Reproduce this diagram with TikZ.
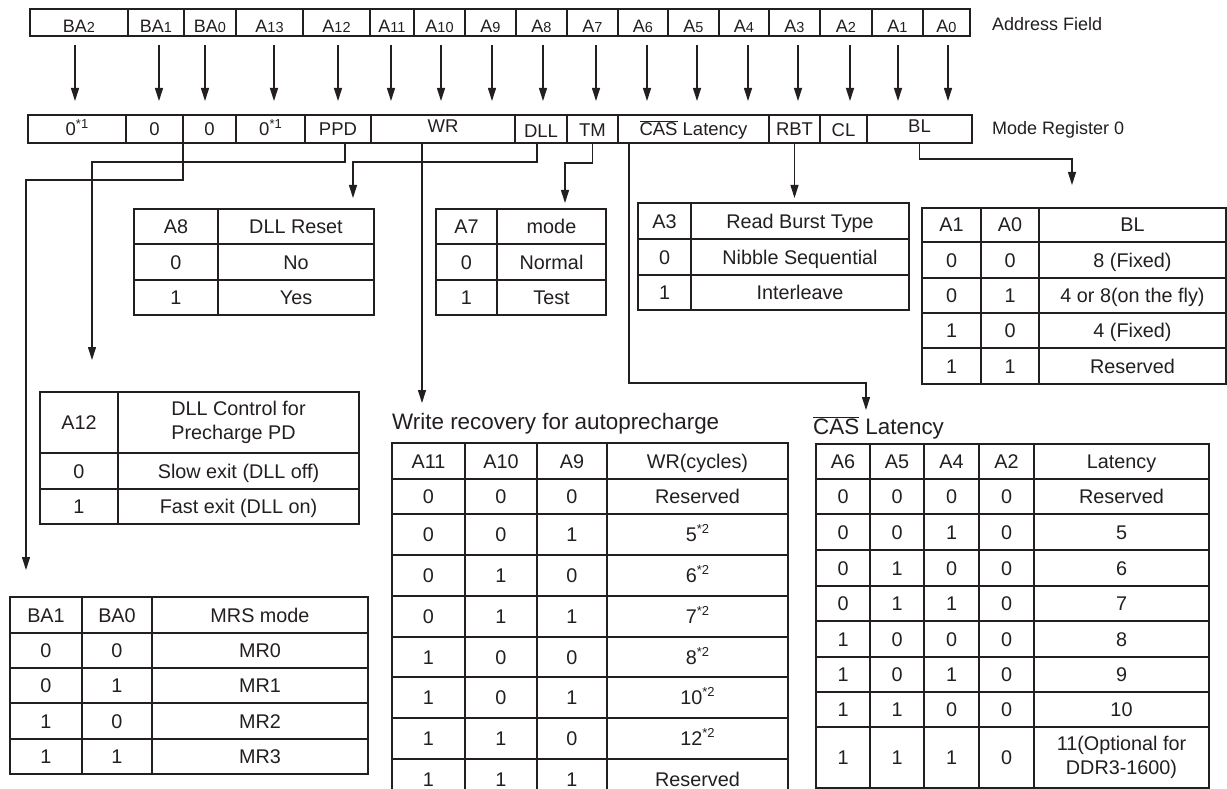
\documentclass[tikz,border=0pt]{standalone}
\usepackage{fontspec}
\setmainfont{Liberation Sans}
\usetikzlibrary{arrows.meta,calc}
\definecolor{ink}{RGB}{35,31,32}
\newcommand\mytabfont{\fontsize{19.8}{23.5}\selectfont}
\newcommand\myregfont{\fontsize{18.5}{20}\selectfont}
\newcommand\myaddrfont{\fontsize{18}{20}\selectfont}
\newcommand\mytitlefont{\fontsize{22.4}{26}\selectfont}
\newcommand\subd[1]{{\fontsize{14.5}{15}\selectfont #1}}
\newcommand\stx{\raisebox{7pt}{\fontsize{13}{13}\selectfont *1}}
\newcommand\sty{\raisebox{8pt}{\fontsize{13}{13}\selectfont *2}}
\newcommand\ovl[1]{$\overline{\mbox{#1}}$}
\newcommand\mkcell[7][]{%
  \pgfmathsetmacro\mkcw{#5-#3}%
  \pgfmathsetmacro\mkch{#6-#4}%
  \node[cellbox,#1,minimum width=\mkcw pt,minimum height=\mkch pt] (#2) at ({(#3+#5)/2},{(#4+#6)/2}) {#7};}
\begin{document}
\begin{tikzpicture}[x=1pt,y=-1pt,
  cellbox/.style={draw=ink,line width=1.1pt,inner sep=0pt,outer sep=0pt,font=\mytabfont,text=ink,align=center,text height=17pt,text depth=3pt},
  regcell/.style={font=\myregfont,text height=16pt,text depth=2.8pt},
  addrcell/.style={font=\myaddrfont,text height=21pt,text depth=1.6pt},
  twoline/.style={text height={},text depth={}},
  arr/.style={draw=ink,line width=1.1pt,-{Triangle[length=13pt,width=8pt]}},
  lbl/.style={inner sep=0pt,text=ink,anchor=base west}]
\useasboundingbox[fill=white] (0,0) rectangle (1227,789);

% Address field
\foreach \nm/\xa/\xb/\tx in {ba2/30/128/{BA\subd{2}}, ba1/128/184/{BA\subd{1}}, ba0/184/236/{BA\subd{0}}, a13/236/303/{A\subd{13}}, a12/303/370/{A\subd{12}}, a11/370/414/{A\subd{11}}, a10/414/465/{A\subd{10}}, a9/465/516/{A\subd{9}}, a8/516/567/{A\subd{8}}, a7/567/618/{A\subd{7}}, a6/618/668/{A\subd{6}}, a5/668/719/{A\subd{5}}, a4/719/769/{A\subd{4}}, a3/769/820/{A\subd{3}}, a2/820/872/{A\subd{2}}, a1/872/923/{A\subd{1}}, a0/923/970/{A\subd{0}}}
  {\mkcell[addrcell]{\nm}{\xa}{9}{\xb}{36}{\tx}}
\node[lbl,font=\myaddrfont] (afl) at (992,31) {Address Field};

% arrows address -> mode register
\foreach \nm/\dx in {ba2/-4, ba1/3, ba0/-5, a13/4.5, a12/1.5, a11/-1, a10/1.5, a9/1.5, a8/1.5, a7/3.5, a6/4, a5/3.5, a4/4, a3/3.5, a2/4, a1/0.5, a0/1.5}
  {\draw[arr] ($(\nm.south)+(\dx,9)$) -- ++(0,56);}

% Mode register 0
\foreach \nm/\xa/\xb/\tx in {mr0/28/126/{0\stx}, mrba1/126/183/0, mrba0/183/236/0, mr13/236/305/{0\stx}, mrppd/305/371/PPD, mrwr/371/515/{\raisebox{3pt}{WR}}, mrdll/515/567/{\raisebox{-2pt}{DLL}}, mrtm/567/618/{\raisebox{-1pt}{TM}}, mrcas/618/769/{\ovl{CAS} Latency}, mrrbt/769/820/RBT, mrcl/820/867/{\raisebox{-1pt}{CL}}, mrbl/867/972/{\raisebox{3pt}{BL}}}
  {\mkcell[regcell]{\nm}{\xa}{115}{\xb}{143}{\tx}}
\node[lbl,font=\myaddrfont] (mrl) at (992,135) {Mode Register 0};

% DLL reset table
\foreach \rr/\ya/\yb/\ca/\cb in {1/209/244/A8/{DLL Reset}, 2/244/280/0/No, 3/280/315/1/Yes}{
  \mkcell{dl\rr a}{134}{\ya}{218}{\yb}{\ca}
  \mkcell{dl\rr b}{218}{\ya}{374}{\yb}{\cb}}

% Test mode table
\foreach \rr/\ya/\yb/\ca/\cb in {1/209/244/A7/mode, 2/244/280/0/Normal, 3/280/315/1/Test}{
  \mkcell{tm\rr a}{436}{\ya}{497}{\yb}{\ca}
  \mkcell{tm\rr b}{497}{\ya}{606}{\yb}{\cb}}

% Read burst type table
\foreach \rr/\ya/\yb/\ca/\cb in {1/203/239/A3/{Read Burst Type}, 2/239/275/0/{Nibble Sequential}, 3/275/310/1/Interleave}{
  \mkcell{rb\rr a}{638}{\ya}{691}{\yb}{\ca}
  \mkcell{rb\rr b}{691}{\ya}{909}{\yb}{\cb}}

% Burst length table
\foreach \rr/\ya/\yb/\ca/\cb/\cc in {1/208/242/A1/A0/BL, 2/242/278/0/0/{8 (Fixed)}, 3/278/313/0/1/{4 or 8(on the fly)}, 4/313/348/1/0/{4 (Fixed)}, 5/348/384/1/1/Reserved}{
  \mkcell{bl\rr a}{922}{\ya}{981}{\yb}{\ca}
  \mkcell{bl\rr b}{981}{\ya}{1039}{\yb}{\cb}
  \mkcell{bl\rr c}{1039}{\ya}{1226}{\yb}{\cc}}

% Precharge PD table
\mkcell{pd1a}{40}{392}{118}{453}{A12}
\mkcell[twoline,align=left]{pd1b}{118}{392}{359}{453}{DLL Control for\\Precharge PD}
\foreach \rr/\ya/\yb/\ca/\cb in {2/453/489/0/{Slow exit (DLL off)}, 3/489/524/1/{Fast exit (DLL on)}}{
  \mkcell{pd\rr a}{40}{\ya}{118}{\yb}{\ca}
  \mkcell{pd\rr b}{118}{\ya}{359}{\yb}{\cb}}

% MRS mode table
\foreach \rr/\ya/\yb/\ca/\cb/\cc in {1/597/633/BA1/BA0/{MRS mode}, 2/633/668/0/0/MR0, 3/668/703/0/1/MR1, 4/703/739/1/0/MR2, 5/739/774/1/1/MR3}{
  \mkcell{ms\rr a}{10}{\ya}{82}{\yb}{\ca}
  \mkcell{ms\rr b}{82}{\ya}{152}{\yb}{\cb}
  \mkcell{ms\rr c}{152}{\ya}{368}{\yb}{\cc}}

% Write recovery table
\node[lbl,font=\mytitlefont] (wrtitle) at (392,429) {Write recovery for autoprecharge};
\foreach \rr/\ya/\yb/\ca/\cb/\cc/\cd in {1/443/479/A11/A10/A9/{WR(cycles)}, 2/479/514/0/0/0/Reserved, 3/514/555/0/0/1/{5\sty}, 4/555/596/0/1/0/{6\sty}, 5/596/637/0/1/1/{7\sty}, 6/637/677/1/0/0/{8\sty}, 7/677/718/1/0/1/{10\sty}, 8/718/759/1/1/0/{12\sty}, 9/759/800/1/1/1/Reserved}{
  \mkcell{wt\rr a}{392}{\ya}{465}{\yb}{\ca}
  \mkcell{wt\rr b}{465}{\ya}{537}{\yb}{\cb}
  \mkcell{wt\rr c}{537}{\ya}{607}{\yb}{\cc}
  \mkcell{wt\rr d}{607}{\ya}{788}{\yb}{\cd}}

% CAS latency table
\node[lbl,font=\mytitlefont] (castitle) at (813,434) {\ovl{CAS} Latency};
\foreach \rr/\ya/\yb/\ca/\cb/\cc/\cd/\cf in {1/444/479/A6/A5/A4/A2/Latency, 2/479/514/0/0/0/0/Reserved, 3/514/550/0/0/1/0/5, 4/550/586/0/1/0/0/6, 5/586/621/0/1/1/0/7, 6/621/657/1/0/0/0/8, 7/657/692/1/0/1/0/9, 8/692/727/1/1/0/0/10}{
  \mkcell{ct\rr a}{816}{\ya}{870}{\yb}{\ca}
  \mkcell{ct\rr b}{870}{\ya}{924}{\yb}{\cb}
  \mkcell{ct\rr c}{924}{\ya}{979}{\yb}{\cc}
  \mkcell{ct\rr d}{979}{\ya}{1034}{\yb}{\cd}
  \mkcell{ct\rr e}{1034}{\ya}{1209}{\yb}{\cf}}
\mkcell{ct9a}{816}{727}{870}{788}{1}
\mkcell{ct9b}{870}{727}{924}{788}{1}
\mkcell{ct9c}{924}{727}{979}{788}{1}
\mkcell{ct9d}{979}{727}{1034}{788}{0}
\mkcell[twoline]{ct9e}{1034}{727}{1209}{788}{11(Optional for\\DDR3-1600)}

% connectors
\coordinate (baend) at (26,570);
\coordinate (ppdend) at (92,360);
\coordinate (dllend) at (353,198);
\coordinate (wrend) at (422,403);
\coordinate (tmend) at (565,203);
\coordinate (casend) at (866,410);
\coordinate (rbtend) at (794.5,198);
\coordinate (blend) at (1072,185);
\draw[arr] (mrba1.south east) -- ++(0,37) -| (baend);
\draw[arr] ([xshift=7pt]mrppd.south) -- ++(0,19) -| (ppdend);
\draw[arr] ([xshift=-4pt]mrdll.south) -- ++(0,19) -| (dllend);
\draw[arr] ([xshift=-21pt]mrwr.south) -- (wrend);
\draw[arr] (mrtm.south) -- ++(0,20) -| (tmend);
\draw[arr] ([xshift=-64.5pt]mrcas.south) -- ++(0,240) -| (casend);
\draw[arr] (mrrbt.south) -- (rbtend);
\draw[arr] (mrbl.south) -- ++(0,16) -| (blend);
\end{tikzpicture}
\end{document}
